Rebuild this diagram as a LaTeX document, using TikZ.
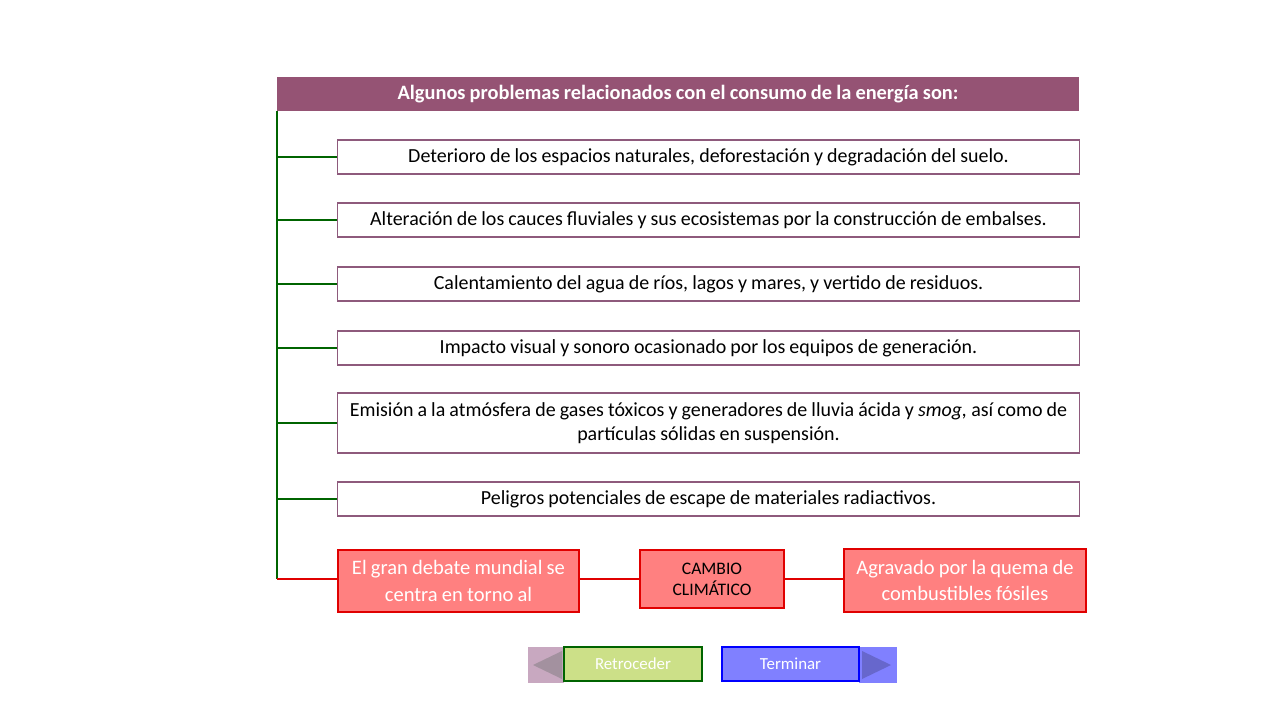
\documentclass[tikz,border=0pt]{standalone}
\usepackage{fontspec}
\setmainfont[WordSpace=0.9]{Carlito}
\definecolor{titulo}{HTML}{955374}
\definecolor{marco}{HTML}{8E5A7C}
\definecolor{verde}{HTML}{006400}
\definecolor{rojo}{HTML}{E00000}
\definecolor{rosa}{HTML}{FF8080}
\definecolor{gris}{HTML}{C8A8C0}
\definecolor{lima}{HTML}{CCE088}
\definecolor{azul}{HTML}{8080FF}
\tikzset{
  problema/.style={draw=marco, thick, inner sep=2pt, minimum width=18.525cm, minimum height=0.85cm, align=center},
  rojobox/.style={draw=rojo, thick, fill=rosa, align=center, inner sep=2pt, text=white},
  rama/.style={verde, very thick},
  ramaroja/.style={rojo, very thick},
  boton/.style={thick, minimum height=0.85cm, text=white, font=\fontsize{12}{14}\selectfont}
}
\begin{document}
\begin{tikzpicture}[x=0.025cm, y=-0.025cm, font=\fontsize{14.2}{17}\selectfont]
	\useasboundingbox (0,0) rectangle (1280,720);
	\node[fill=titulo, text=white, minimum width=20.05cm, minimum height=0.85cm, inner sep=0pt, font=\fontsize{14.5}{17}\selectfont] (tit) at (678,94) {\bfseries Algunos problemas relacionados con el consumo de la energía son:};

	\node[problema] (p1) at (708.5,157) {Deterioro de los espacios naturales, deforestación y degradación del suelo.};
	\node[problema] (p2) at (708.5,220) {Alteración de los cauces fluviales y sus ecosistemas por la construcción de embalses.};
	\node[problema] (p3) at (708.5,284) {Calentamiento del agua de ríos, lagos y mares, y vertido de residuos.};
	\node[problema] (p4) at (708.5,348) {Impacto visual y sonoro ocasionado por los equipos de generación.};
	\node[problema, minimum height=1.5cm] (p5) at (708.5,423) {Emisión a la atmósfera de gases tóxicos y generadores de lluvia ácida y \textit{smog,} así como de\\partículas sólidas en suspensión.};
	\node[problema] (p6) at (708.5,499) {Peligros potenciales de escape de materiales radiactivos.};

	\node[rojobox, minimum width=6.025cm, minimum height=1.55cm, font=\fontsize{14.6}{19}\selectfont] (debate) at (458.5,581) {El gran debate mundial se\\centra en torno al};
	\node[rojobox, minimum width=3.6cm, minimum height=1.45cm, text=black, font=\fontsize{12.5}{15}\selectfont] (cambio) at (712,579) {CAMBIO\\CLIMÁTICO};
	\node[rojobox, minimum width=6.05cm, minimum height=1.575cm, font=\fontsize{14.6}{19}\selectfont] (quema) at (965,580.5) {Agravado por la quema de\\combustibles fósiles};

	\coordinate (arriba) at (277,111);
	\coordinate (abajo) at (277,579);
	\draw[rama] (arriba) -- (abajo);
	\foreach \p in {p1,p2,p3,p4,p5,p6}
		\draw[rama] (arriba |- \p.west) -- (\p.west);
	\draw[ramaroja] (abajo) -- (abajo -| debate.west);
	\draw[ramaroja] (debate.east |- cambio) -- (cambio.west);
	\draw[ramaroja] (cambio.east) -- (quema.west |- cambio);

	\node[fill=gris, minimum width=0.9cm, minimum height=0.9cm, inner sep=0pt] (atras) at (546,665) {};
	\fill[gris!70!black!80] (533,665) -- (562,651) -- (562,679) -- cycle;
	\node[boton, draw=verde, fill=lima, minimum width=3.45cm] (retro) at (633,664) {Retroceder};
	\node[fill=azul, minimum width=0.95cm, minimum height=0.9cm, inner sep=0pt] (adelante) at (878,665) {};
	\fill[azul!80!black] (891,665) -- (862,651) -- (862,679) -- cycle;
	\node[boton, draw=blue, fill=azul, minimum width=3.425cm] (fin) at (790.5,664) {Terminar};
\end{tikzpicture}
\end{document}
